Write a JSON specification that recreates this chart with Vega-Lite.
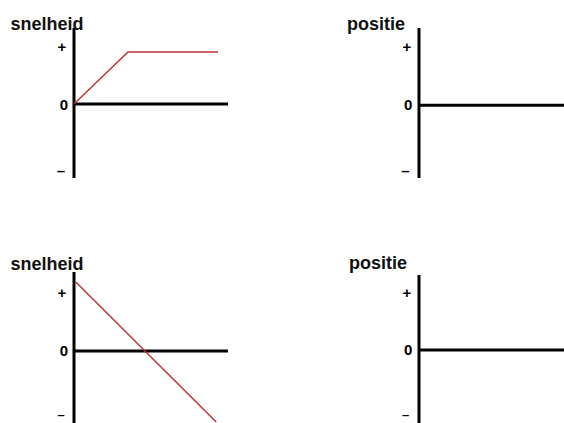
{
  "$schema": "https://vega.github.io/schema/vega-lite/v6.json",
  "padding": 0,
  "background": "white",
  "config": {"view": {"stroke": null}, "concat": {"spacing": 0}},
  "spacing": 0,
  "columns": 2,
  "concat": [
    {
      "width": 282, "height": 245,
      "encoding": {
        "x": {"field": "x", "type": "quantitative", "axis": null, "scale": {"domain": [-4.111, 11.556], "nice": false, "zero": false}},
        "y": {"field": "y", "type": "quantitative", "axis": null, "scale": {"domain": [-2.4737, 1.8246], "nice": false, "zero": false}}
      },
      "layer": [
        {
          "data": {"values": [
            {"x": 0, "x2": 0, "y": 1.333, "y2": -1.298},
            {"x": 0, "x2": 8.56, "y": 0, "y2": 0}
          ]},
          "mark": {"type": "rule", "color": "black", "strokeWidth": 3},
          "encoding": {"x2": {"field": "x2"}, "y2": {"field": "y2"}}
        },
        {
          "data": {"values": [
            {"x": 0, "y": 0}, {"x": 3, "y": 0.912}, {"x": 8, "y": 0.912}
          ]},
          "mark": {"type": "line", "color": "#b8312f", "strokeWidth": 1.4},
          "encoding": {}
        },
        {
          "data": {"values": [
            {"x": -0.667, "y": 1.0, "label": "+"},
            {"x": -0.556, "y": -0.02, "label": "0"},
            {"x": -0.72, "y": -1.175, "label": "–"}
          ]},
          "mark": {"type": "text", "font": "Liberation Sans Narrow, Liberation Sans", "fontWeight": "bold", "fontSize": 15, "align": "center", "baseline": "middle", "color": "black"},
          "encoding": {"text": {"field": "label"}}
        },
        {
          "data": {"values": [{"x": -1.5, "y": 1.298, "label": "snelheid"}]},
          "mark": {"type": "text", "font": "Liberation Sans", "fontWeight": "bold", "fontSize": 18, "align": "center", "baseline": "alphabetic", "color": "#111111"},
          "encoding": {"text": {"field": "label"}}
        }
      ]
    },
    {
      "width": 282, "height": 245,
      "encoding": {
        "x": {"field": "x", "type": "quantitative", "axis": null, "scale": {"domain": [-7.611, 8.056], "nice": false, "zero": false}},
        "y": {"field": "y", "type": "quantitative", "axis": null, "scale": {"domain": [-2.4737, 1.8246], "nice": false, "zero": false}}
      },
      "layer": [
        {
          "data": {"values": [
            {"x": 0, "x2": 0, "y": 1.333, "y2": -1.298},
            {"x": 0, "x2": 8.056, "y": -0.02, "y2": -0.02}
          ]},
          "mark": {"type": "rule", "color": "black", "strokeWidth": 3},
          "encoding": {"x2": {"field": "x2"}, "y2": {"field": "y2"}}
        },
        {
          "data": {"values": [
            {"x": -0.667, "y": 1.0, "label": "+"},
            {"x": -0.6, "y": -0.02, "label": "0"},
            {"x": -0.75, "y": -1.175, "label": "–"}
          ]},
          "mark": {"type": "text", "font": "Liberation Sans Narrow, Liberation Sans", "fontWeight": "bold", "fontSize": 15, "align": "center", "baseline": "middle", "color": "black"},
          "encoding": {"text": {"field": "label"}}
        },
        {
          "data": {"values": [{"x": -2.39, "y": 1.298, "label": "positie"}]},
          "mark": {"type": "text", "font": "Liberation Sans", "fontWeight": "bold", "fontSize": 18, "align": "center", "baseline": "alphabetic", "color": "#111111"},
          "encoding": {"text": {"field": "label"}}
        }
      ]
    },
    {
      "width": 282, "height": 178,
      "encoding": {
        "x": {"field": "x", "type": "quantitative", "axis": null, "scale": {"domain": [-4.111, 11.556], "nice": false, "zero": false}},
        "y": {"field": "y", "type": "quantitative", "axis": null, "scale": {"domain": [-1.263, 1.86], "nice": false, "zero": false}}
      },
      "layer": [
        {
          "data": {"values": [
            {"x": 0, "x2": 0, "y": 1.386, "y2": -1.263},
            {"x": 0, "x2": 8.55, "y": 0, "y2": 0}
          ]},
          "mark": {"type": "rule", "color": "black", "strokeWidth": 3},
          "encoding": {"x2": {"field": "x2"}, "y2": {"field": "y2"}}
        },
        {
          "data": {"values": [
            {"x": 0.1, "y": 1.21}, {"x": 7.9, "y": -1.245}
          ]},
          "mark": {"type": "line", "color": "#b8312f", "strokeWidth": 1.4},
          "encoding": {}
        },
        {
          "data": {"values": [
            {"x": -0.667, "y": 1.018, "label": "+"},
            {"x": -0.556, "y": 0, "label": "0"}
          ]},
          "mark": {"type": "text", "font": "Liberation Sans Narrow, Liberation Sans", "fontWeight": "bold", "fontSize": 15, "align": "center", "baseline": "middle", "color": "black"},
          "encoding": {"text": {"field": "label"}}
        },
        {
          "data": {"values": [
            {"x": -0.72, "y": -1.123, "label": "–"}
          ]},
          "mark": {"type": "text", "font": "Liberation Sans", "fontWeight": "bold", "fontSize": 13, "align": "center", "baseline": "middle", "color": "black"},
          "encoding": {"text": {"field": "label"}}
        },
        {
          "data": {"values": [{"x": -1.5, "y": 1.42, "label": "snelheid"}]},
          "mark": {"type": "text", "font": "Liberation Sans", "fontWeight": "bold", "fontSize": 18, "align": "center", "baseline": "alphabetic", "color": "#111111"},
          "encoding": {"text": {"field": "label"}}
        }
      ]
    },
    {
      "width": 282, "height": 178,
      "encoding": {
        "x": {"field": "x", "type": "quantitative", "axis": null, "scale": {"domain": [-7.611, 8.056], "nice": false, "zero": false}},
        "y": {"field": "y", "type": "quantitative", "axis": null, "scale": {"domain": [-1.263, 1.86], "nice": false, "zero": false}}
      },
      "layer": [
        {
          "data": {"values": [
            {"x": 0, "x2": 0, "y": 1.333, "y2": -1.263},
            {"x": 0, "x2": 8.056, "y": 0.018, "y2": 0.018}
          ]},
          "mark": {"type": "rule", "color": "black", "strokeWidth": 3},
          "encoding": {"x2": {"field": "x2"}, "y2": {"field": "y2"}}
        },
        {
          "data": {"values": [
            {"x": -0.667, "y": 1.018, "label": "+"},
            {"x": -0.6, "y": 0.018, "label": "0"}
          ]},
          "mark": {"type": "text", "font": "Liberation Sans Narrow, Liberation Sans", "fontWeight": "bold", "fontSize": 15, "align": "center", "baseline": "middle", "color": "black"},
          "encoding": {"text": {"field": "label"}}
        },
        {
          "data": {"values": [
            {"x": -0.75, "y": -1.123, "label": "–"}
          ]},
          "mark": {"type": "text", "font": "Liberation Sans", "fontWeight": "bold", "fontSize": 13, "align": "center", "baseline": "middle", "color": "black"},
          "encoding": {"text": {"field": "label"}}
        },
        {
          "data": {"values": [{"x": -2.28, "y": 1.44, "label": "positie"}]},
          "mark": {"type": "text", "font": "Liberation Sans", "fontWeight": "bold", "fontSize": 18, "align": "center", "baseline": "alphabetic", "color": "#111111"},
          "encoding": {"text": {"field": "label"}}
        }
      ]
    }
  ]
}
